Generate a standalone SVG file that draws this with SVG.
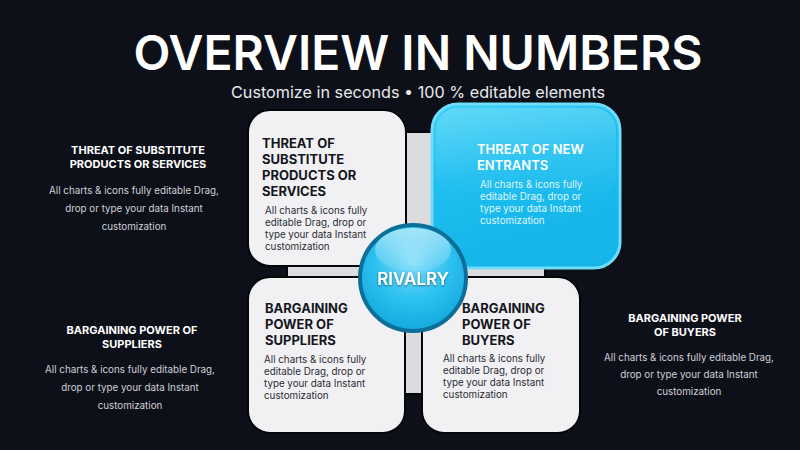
<svg xmlns="http://www.w3.org/2000/svg" width="800" height="450" viewBox="0 0 800 450">
  <defs>
    <linearGradient id="blueCard" x1="0" y1="0" x2="0.3" y2="1">
      <stop offset="0" stop-color="#3fd1f7"/>
      <stop offset="0.45" stop-color="#1fbff0"/>
      <stop offset="1" stop-color="#15b4e9"/>
    </linearGradient>
    <linearGradient id="cardGloss" x1="0" y1="0" x2="0" y2="1">
      <stop offset="0" stop-color="#ffffff" stop-opacity="0.18"/>
      <stop offset="1" stop-color="#ffffff" stop-opacity="0"/>
    </linearGradient>
    <radialGradient id="ball" cx="0.5" cy="0.35" r="0.65">
      <stop offset="0" stop-color="#7fdcf8"/>
      <stop offset="0.55" stop-color="#2cc1f0"/>
      <stop offset="1" stop-color="#14a8dc"/>
    </radialGradient>
    <linearGradient id="gloss" x1="0" y1="0" x2="0" y2="1">
      <stop offset="0" stop-color="#ffffff" stop-opacity="0.55"/>
      <stop offset="1" stop-color="#ffffff" stop-opacity="0.05"/>
    </linearGradient>
    <filter id="sh" x="-10%" y="-10%" width="120%" height="120%">
      <feDropShadow dx="0" dy="1" stdDeviation="1" flood-color="#000" flood-opacity="0.5"/>
    </filter>
  </defs>
  <style>
    .title{font-family:Inter,"Noto Sans",sans-serif;font-weight:600;fill:#ffffff}
    .sub{font-family:Inter,"Noto Sans",sans-serif;font-weight:400;fill:#e8e9ee}
    .card{fill:#f1f1f4;stroke:#05060a;stroke-width:2}
    .ch{font-family:Inter,"Noto Sans",sans-serif;font-weight:700;font-size:13px;fill:#15161c}
    .cb{font-family:Inter,"Noto Sans",sans-serif;font-weight:400;font-size:9.8px;fill:#2a2b31}
    .chw{font-family:Inter,"Noto Sans",sans-serif;font-weight:600;font-size:13px;fill:#ffffff}
    .cbw{font-family:Inter,"Noto Sans",sans-serif;font-weight:400;font-size:9.8px;fill:#dff5fd}
    .sh{font-family:Inter,"Noto Sans",sans-serif;font-weight:700;font-size:11px;fill:#ffffff}
    .sb{font-family:Inter,"Noto Sans",sans-serif;font-weight:400;font-size:9.8px;fill:#cfd1d8}
  </style>
  <rect width="800" height="450" fill="#0e1019"/>

  <g id="header">
    <text class="title" x="418" y="70" font-size="48" text-anchor="middle">OVERVIEW IN NUMBERS</text>
    <text class="sub" x="418" y="98" font-size="16.2" text-anchor="middle">Customize in seconds • 100 % editable elements</text>
  </g>

  <g id="backing">
    <rect x="287" y="132" width="258" height="262" fill="#dcdcdf" stroke="#05060a" stroke-width="2"/>
  </g>

  <g id="card-substitutes">
    <rect class="card" x="248" y="110" width="158" height="156" rx="22"/>
    <text class="ch"><tspan x="262" y="148">THREAT OF</tspan><tspan x="262" y="164">SUBSTITUTE</tspan><tspan x="262" y="180">PRODUCTS OR</tspan><tspan x="262" y="196">SERVICES</tspan></text>
    <text class="cb"><tspan x="265" y="214">All charts &amp; icons fully</tspan><tspan x="265" y="226">editable Drag, drop or</tspan><tspan x="265" y="238">type your data Instant</tspan><tspan x="265" y="250">customization</tspan></text>
  </g>

  <g id="card-new-entrants">
    <rect x="432" y="104" width="188" height="164" rx="26" fill="url(#blueCard)" stroke="#6fdcfa" stroke-width="3"/>
    <rect x="436" y="108" width="180" height="90" rx="22" fill="url(#cardGloss)"/>
    <text class="chw"><tspan x="477" y="154">THREAT OF NEW</tspan><tspan x="477" y="170">ENTRANTS</tspan></text>
    <text class="cbw"><tspan x="480" y="188">All charts &amp; icons fully</tspan><tspan x="480" y="200">editable Drag, drop or</tspan><tspan x="480" y="212">type your data Instant</tspan><tspan x="480" y="224">customization</tspan></text>
  </g>

  <g id="card-suppliers">
    <rect class="card" x="248" y="277" width="157" height="156" rx="22"/>
    <text class="ch"><tspan x="265" y="313">BARGAINING</tspan><tspan x="265" y="329">POWER OF</tspan><tspan x="265" y="345">SUPPLIERS</tspan></text>
    <text class="cb"><tspan x="264" y="363">All charts &amp; icons fully</tspan><tspan x="264" y="375">editable Drag, drop or</tspan><tspan x="264" y="387">type your data Instant</tspan><tspan x="264" y="399">customization</tspan></text>
  </g>

  <g id="card-buyers">
    <rect class="card" x="422" y="277" width="158" height="156" rx="22"/>
    <text class="ch"><tspan x="462" y="313">BARGAINING</tspan><tspan x="462" y="329">POWER OF</tspan><tspan x="462" y="345">BUYERS</tspan></text>
    <text class="cb"><tspan x="443" y="362">All charts &amp; icons fully</tspan><tspan x="443" y="374">editable Drag, drop or</tspan><tspan x="443" y="386">type your data Instant</tspan><tspan x="443" y="398">customization</tspan></text>
  </g>

  <g id="rivalry">
    <circle cx="413" cy="278" r="53" fill="url(#ball)" stroke="#0b6f98" stroke-width="4"/>
    <ellipse cx="413" cy="250" rx="38" ry="22" fill="url(#gloss)"/>
    <text x="413" y="285" text-anchor="middle" font-family="Inter,'Noto Sans',sans-serif" font-weight="600" font-size="17" fill="#ffffff" filter="url(#sh)">RIVALRY</text>
  </g>

  <g id="side-substitutes">
    <text class="sh" text-anchor="middle"><tspan x="138" y="154">THREAT OF SUBSTITUTE</tspan><tspan x="138" y="168">PRODUCTS OR SERVICES</tspan></text>
    <text class="sb" text-anchor="middle"><tspan x="134" y="194">All charts &amp; icons fully editable Drag,</tspan><tspan x="134" y="212">drop or type your data Instant</tspan><tspan x="134" y="230">customization</tspan></text>
  </g>

  <g id="side-suppliers">
    <text class="sh" text-anchor="middle"><tspan x="132" y="334">BARGAINING POWER OF</tspan><tspan x="132" y="348">SUPPLIERS</tspan></text>
    <text class="sb" text-anchor="middle"><tspan x="130" y="373">All charts &amp; icons fully editable Drag,</tspan><tspan x="130" y="391">drop or type your data Instant</tspan><tspan x="130" y="409">customization</tspan></text>
  </g>

  <g id="side-buyers">
    <text class="sh" text-anchor="middle"><tspan x="685" y="322">BARGAINING POWER</tspan><tspan x="685" y="336">OF BUYERS</tspan></text>
    <text class="sb" text-anchor="middle"><tspan x="689" y="361">All charts &amp; icons fully editable Drag,</tspan><tspan x="689" y="378">drop or type your data Instant</tspan><tspan x="689" y="395">customization</tspan></text>
  </g>

  <g id="connectors"></g>
</svg>
